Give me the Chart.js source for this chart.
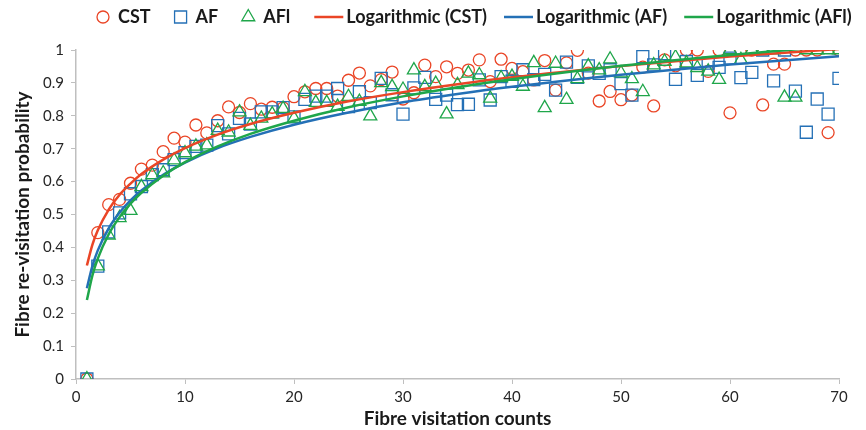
<!DOCTYPE html>
<html>
<head>
<meta charset="utf-8">
<script src="https://cdn.jsdelivr.net/npm/chart.js@4/dist/chart.umd.min.js"></script>
<style>
  html, body { margin: 0; padding: 0; background: #fff; }
  #wrap { width: 866px; height: 430px; }
</style>
</head>
<body>
<div id="wrap"><canvas id="fibre"></canvas></div>
<script>
// Fibre visitation counts (x) for the three scatter series
const counts = [1, 2, 3, 4, 5, 6, 7, 8, 9, 10, 11, 12, 13, 14, 15, 16, 17, 18, 19, 20,
  21, 22, 23, 24, 25, 26, 27, 28, 29, 30, 31, 32, 33, 34, 35, 36, 37, 38, 39, 40,
  41, 42, 43, 44, 45, 46, 47, 48, 49, 50, 51, 52, 53, 54, 55, 56, 57, 58, 59, 60,
  61, 62, 63, 64, 65, 66, 67, 68, 69, 70];

// Re-visitation probability
const cst = [0, 0.445, 0.53, 0.546, 0.595, 0.638, 0.65, 0.691, 0.732, 0.72,
  0.772, 0.748, 0.785, 0.827, 0.81, 0.837, 0.82, 0.826, 0.824, 0.858,
  0.873, 0.883, 0.883, 0.86, 0.908, 0.93, 0.891, 0.91, 0.933, 0.851,
  0.87, 0.954, 0.919, 0.949, 0.929, 0.939, 0.97, 0.904, 0.972, 0.944,
  0.934, 0.909, 0.968, 0.878, 0.961, 0.999, 0.93, 0.845, 0.874, 0.849,
  0.863, 0.948, 0.83, 0.97, 0.952, 1, 1, 0.935, 1, 0.809,
  1, 1, 0.833, 0.957, 0.957, 1, 1, 1, 0.749, 1];
const af = [0, 0.343, 0.447, 0.505, 0.563, 0.585, 0.621, 0.636, 0.667, 0.688,
  0.707, 0.711, 0.77, 0.745, 0.792, 0.775, 0.812, 0.812, 0.825, 0.797,
  0.85, 0.86, 0.86, 0.883, 0.828, 0.873, 0.84, 0.914, 0.864, 0.805,
  0.885, 0.917, 0.85, 0.863, 0.834, 0.835, 0.909, 0.848, 0.919, 0.905,
  0.94, 0.91, 0.926, 0.878, 0.963, 0.917, 0.952, 0.929, 0.94, 0.898,
  0.863, 0.98, 0.955, 0.989, 0.911, 0.965, 0.923, 0.96, 0.947, 0.975,
  0.916, 0.932, 1, 0.906, 1, 0.875, 0.75, 0.851, 0.805, 0.914];
const afl = [0, 0.343, 0.437, 0.49, 0.512, 0.584, 0.62, 0.626, 0.665, 0.687,
  0.707, 0.711, 0.755, 0.75, 0.811, 0.77, 0.792, 0.805, 0.822, 0.792,
  0.873, 0.84, 0.84, 0.828, 0.858, 0.843, 0.799, 0.9, 0.888, 0.88,
  0.939, 0.888, 0.898, 0.805, 0.894, 0.929, 0.924, 0.853, 0.915, 0.919,
  0.889, 0.961, 0.824, 0.959, 0.849, 0.912, 0.951, 0.939, 0.972, 0.93,
  0.912, 0.873, 0.954, 0.965, 0.978, 0.96, 0.946, 0.935, 0.91, 1,
  0.97, 1, 1, 1, 0.856, 0.856, 1, 1, 1, 1];

// Logarithmic trendlines, sampled off the figure
const trendX = [1, 1.5, 2, 3, 4, 5, 6, 8, 10, 13, 16, 20, 25, 30, 35, 40, 50, 60, 70];
const cstTrend = [0.345, 0.408, 0.452, 0.515, 0.56, 0.594, 0.623, 0.667, 0.702, 0.743,
  0.775, 0.809, 0.844, 0.872, 0.896, 0.917, 0.951, 0.98, 1.003];
const afTrend = [0.276, 0.343, 0.391, 0.458, 0.506, 0.543, 0.573, 0.621, 0.658, 0.702,
  0.736, 0.773, 0.81, 0.841, 0.866, 0.888, 0.925, 0.956, 0.981];
const aflTrend = [0.24, 0.314, 0.366, 0.44, 0.492, 0.533, 0.566, 0.618, 0.659, 0.707,
  0.745, 0.785, 0.826, 0.859, 0.887, 0.911, 0.952, 0.985, 1.013];

const red = '#EA4526';
const blue = '#2470B6';
const green = '#1FA64A';
const axisGrey = '#BFBFBF';

const pts = (xs, ys) => xs.map((x, i) => ({ x: x, y: ys[i] }));

function markerSet(label, ys, style, color, radius, order) {
  return {
    label: label,
    data: pts(counts, ys),
    pointStyle: style,
    pointRadius: radius,
    pointHoverRadius: radius,
    pointBorderWidth: 1.3,
    borderColor: color,
    backgroundColor: 'rgba(0,0,0,0)',
    showLine: false,
    order: order
  };
}

function trendSet(label, ys, color, order) {
  return {
    label: label,
    data: pts(trendX, ys),
    showLine: true,
    borderColor: color,
    backgroundColor: color,
    borderWidth: 2.5,
    pointRadius: 0,
    cubicInterpolationMode: 'monotone',
    pointStyle: 'line',
    order: order
  };
}

// legend drawn by hand so the marker widths match the original
const topLegend = {
  id: 'topLegend',
  afterDraw(chart) {
    const c = chart.ctx;
    let x = chart.chartArea.left + 21;
    const y = 17;
    c.save();
    c.font = 'bold 18px Lato';
    c.textBaseline = 'middle';
    chart.data.datasets.forEach(ds => {
      c.strokeStyle = ds.borderColor;
      if (ds.showLine) {
        c.lineWidth = 2.5;
        c.beginPath();
        c.moveTo(x, y);
        c.lineTo(x + 29, y);
        c.stroke();
        x += 32;
      } else {
        c.lineWidth = 1.3;
        c.fillStyle = 'rgba(0,0,0,0)';
        Chart.helpers.drawPoint(c, { pointStyle: ds.pointStyle, radius: ds.pointRadius, borderWidth: 1.3 }, x + 6, y);
        x += 21;
      }
      c.fillStyle = '#1a1a1a';
      c.fillText(ds.label, x, y);
      x += c.measureText(ds.label).width + (ds.showLine ? 17 : 24);
    });
    c.restore();
  }
};

new Chart(document.getElementById('fibre'), {
  type: 'scatter',
  data: {
    datasets: [
      markerSet('CST', cst, 'circle', red, 6, 5),
      markerSet('AF', af, 'rect', blue, 8.5, 4),
      markerSet('AFl', afl, 'triangle', green, 7.5, 3),
      trendSet('Logarithmic (CST)', cstTrend, red, 2),
      trendSet('Logarithmic (AF)', afTrend, blue, 1),
      trendSet('Logarithmic (AFl)', aflTrend, green, 0)
    ]
  },
  options: {
    responsive: true,
    maintainAspectRatio: false,
    animation: false,
    devicePixelRatio: 1,
    layout: { padding: { top: 50, right: 27, left: 0, bottom: 0 } },
    plugins: {
      legend: { display: false },
      tooltip: { enabled: false }
    },
    scales: {
      x: {
        type: 'linear',
        min: 0,
        max: 70,
        afterFit: s => { s.height = 51; },
        ticks: { stepSize: 10, padding: 4, color: '#262626', font: { family: 'Lato', size: 15 } },
        grid: { drawOnChartArea: false, tickLength: 5, color: axisGrey },
        border: { color: axisGrey, width: 1.5 },
        title: {
          display: true,
          text: 'Fibre visitation counts',
          color: '#1a1a1a',
          font: { family: 'Lato', size: 19, weight: 'bold' },
          padding: { top: 0, bottom: 0 }
        }
      },
      y: {
        min: 0,
        max: 1,
        afterFit: s => { s.width = 76; },
        ticks: {
          stepSize: 0.1,
          padding: 7,
          color: '#262626',
          font: { family: 'Lato', size: 15 },
          callback: v => String(Math.round(v * 10) / 10)
        },
        grid: { drawOnChartArea: false, tickLength: 5, color: axisGrey },
        border: { color: axisGrey, width: 1.5 },
        title: {
          display: true,
          text: 'Fibre re-visitation probability',
          color: '#1a1a1a',
          font: { family: 'Lato', size: 19, weight: 'bold' },
          padding: { top: 11, bottom: 0 }
        }
      }
    }
  },
  plugins: [topLegend]
});
</script>
</body>
</html>
